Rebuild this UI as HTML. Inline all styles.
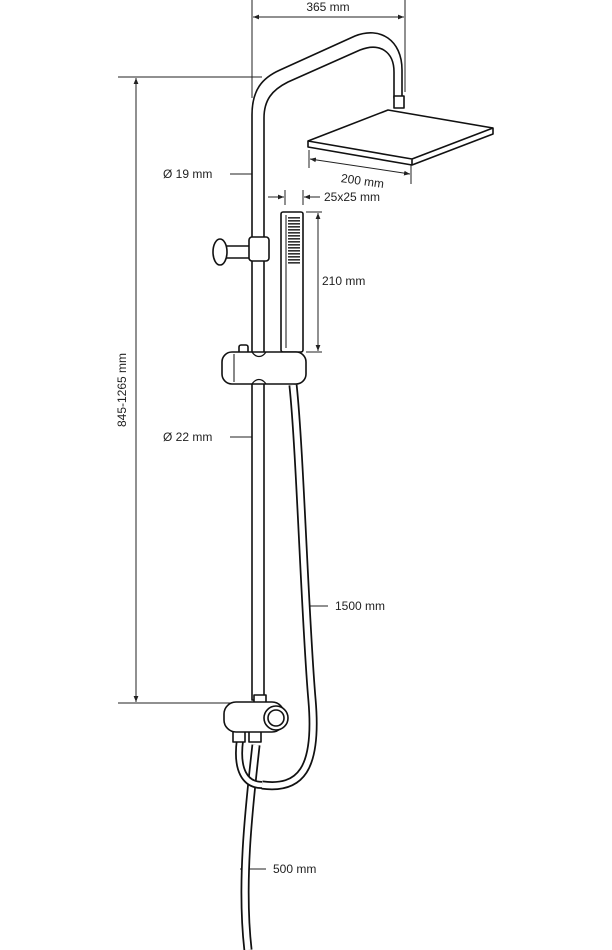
<!DOCTYPE html>
<html><head><style>
html,body{margin:0;padding:0;background:#fff;}
svg{display:block;}
text{font-family:"Liberation Sans",Arial,sans-serif;font-size:12px;fill:#222;}
</style></head><body>
<svg width="612" height="950" viewBox="0 0 612 950" xmlns="http://www.w3.org/2000/svg">
<defs>
<marker id="a" viewBox="0 0 10 10" refX="10" refY="5" markerWidth="6" markerHeight="6" orient="auto-start-reverse"><path d="M0,1 L10,5 L0,9 z" fill="#222"/></marker>
</defs>
<g stroke="#222" stroke-width="1" fill="none">
<!-- 365 dim -->
<line x1="252" y1="0" x2="252" y2="98"/>
<line x1="405" y1="0" x2="405" y2="92"/>
<line x1="253" y1="17" x2="404" y2="17" marker-start="url(#a)" marker-end="url(#a)"/>
<!-- left dim -->
<line x1="118" y1="77" x2="262" y2="77"/>
<line x1="118" y1="703" x2="236" y2="703"/>
<line x1="136" y1="78" x2="136" y2="702" marker-start="url(#a)" marker-end="url(#a)"/>
<!-- leaders -->
<line x1="230" y1="174" x2="259" y2="174"/>
<line x1="230" y1="437" x2="262" y2="437"/>
<line x1="305" y1="606" x2="328" y2="606"/>
<line x1="240" y1="869" x2="266" y2="869"/>
<!-- 200 dim -->
<line x1="309" y1="150" x2="309" y2="168"/>
<line x1="411" y1="165" x2="411" y2="184"/>
<line x1="310" y1="159" x2="410" y2="174" marker-start="url(#a)" marker-end="url(#a)"/>
<!-- 25x25 -->
<line x1="285" y1="190" x2="285" y2="205"/>
<line x1="303" y1="190" x2="303" y2="205"/>
<line x1="268" y1="197" x2="284" y2="197" marker-end="url(#a)"/>
<line x1="320" y1="197" x2="304" y2="197" marker-end="url(#a)"/>
<!-- 210 -->
<line x1="306" y1="212" x2="322" y2="212"/>
<line x1="306" y1="352" x2="322" y2="352"/>
<line x1="318" y1="213" x2="318" y2="351" marker-start="url(#a)" marker-end="url(#a)"/>
</g>
<g stroke="#111" stroke-width="1.6" fill="#fff" stroke-linejoin="round">
<!-- hose -->
<path d="M293,385 C300,450 305,620 312,700 C318,770 300,790 262,785" fill="none" stroke-width="9"/>
<path d="M293,385 C300,450 305,620 312,700 C318,770 300,790 262,785" fill="none" stroke="#fff" stroke-width="5.5"/>
<!-- arm -->
<path d="M252,700 L252,115 C252,90 262,78 280,70 L355,36 C380,26 402,40 402,70 L402,98 L394,98 L394,72 C394,52 380,42 360,50 L288,82 C272,90 264,100 264,118 L264,700 Z"/>
<rect x="394" y="96" width="10" height="12"/>
<!-- head -->
<path d="M308,141 L388,110 L493,128 L493,134 L412,165 L308,147 Z"/>
<path d="M308,141 L412,159 L493,128 M412,159 L412,165" fill="none"/>
<!-- bracket -->
<rect x="225" y="246" width="27" height="12"/>
<ellipse cx="220" cy="252" rx="7" ry="13"/>
<rect x="249" y="237" width="20" height="24" rx="3"/>
<!-- hand shower -->
<rect x="281" y="212" width="22" height="140" rx="2"/>
<line x1="286" y1="215" x2="286" y2="348" stroke-width="1"/>
<!-- slider -->
<rect x="239" y="345" width="9" height="9" rx="2"/>
<rect x="222" y="352" width="84" height="32" rx="10"/>
<path d="M252,352 C256,358 262,358 266,352 M252,384 C256,378 262,378 266,384" fill="none" stroke-width="1.2"/>
<line x1="234" y1="354" x2="234" y2="382" stroke-width="1"/>
<!-- lower hose -->
<path d="M256,745 C250,800 240,880 248,950" fill="none" stroke-width="9"/>
<path d="M256,745 C250,800 240,880 248,950" fill="none" stroke="#fff" stroke-width="5.5"/>
<path d="M240,740 C236,770 245,785 262,785" fill="none" stroke-width="8"/>
<path d="M240,740 C236,770 245,785 262,785" fill="none" stroke="#fff" stroke-width="4.5"/>
<rect x="233" y="728" width="12" height="14"/>
<rect x="249" y="728" width="12" height="14"/>
<!-- valve -->
<rect x="254" y="695" width="12" height="10"/>
<rect x="224" y="702" width="60" height="30" rx="12"/>
<circle cx="276" cy="718" r="12"/>
<circle cx="276" cy="718" r="8"/>
</g>
<g fill="#222">
<g font-size="0">
</g>
</g>
<g>
<rect x="288" y="216" width="12" height="50" fill="none"/>
<g fill="#333">
<path d="M288,217h12v1.6h-12zM288,220h12v1.6h-12zM288,223h12v1.6h-12zM288,226h12v1.6h-12zM288,229h12v1.6h-12zM288,232h12v1.6h-12zM288,235h12v1.6h-12zM288,238h12v1.6h-12zM288,241h12v1.6h-12zM288,244h12v1.6h-12zM288,247h12v1.6h-12zM288,250h12v1.6h-12zM288,253h12v1.6h-12zM288,256h12v1.6h-12zM288,259h12v1.6h-12zM288,262h12v1.6h-12z"/>
</g>
</g>
<text x="328" y="11" text-anchor="middle">365 mm</text>
<text x="163" y="178">Ø 19 mm</text>
<text x="163" y="441">Ø 22 mm</text>
<text x="362" y="185" text-anchor="middle" transform="rotate(8 362 185)">200 mm</text>
<text x="324" y="201" font-size="11">25x25 mm</text>
<text x="322" y="285">210 mm</text>
<text x="335" y="610">1500 mm</text>
<text x="273" y="873">500 mm</text>
<text transform="translate(126 390) rotate(-90)" text-anchor="middle">845-1265 mm</text>
</svg>
</body></html>
